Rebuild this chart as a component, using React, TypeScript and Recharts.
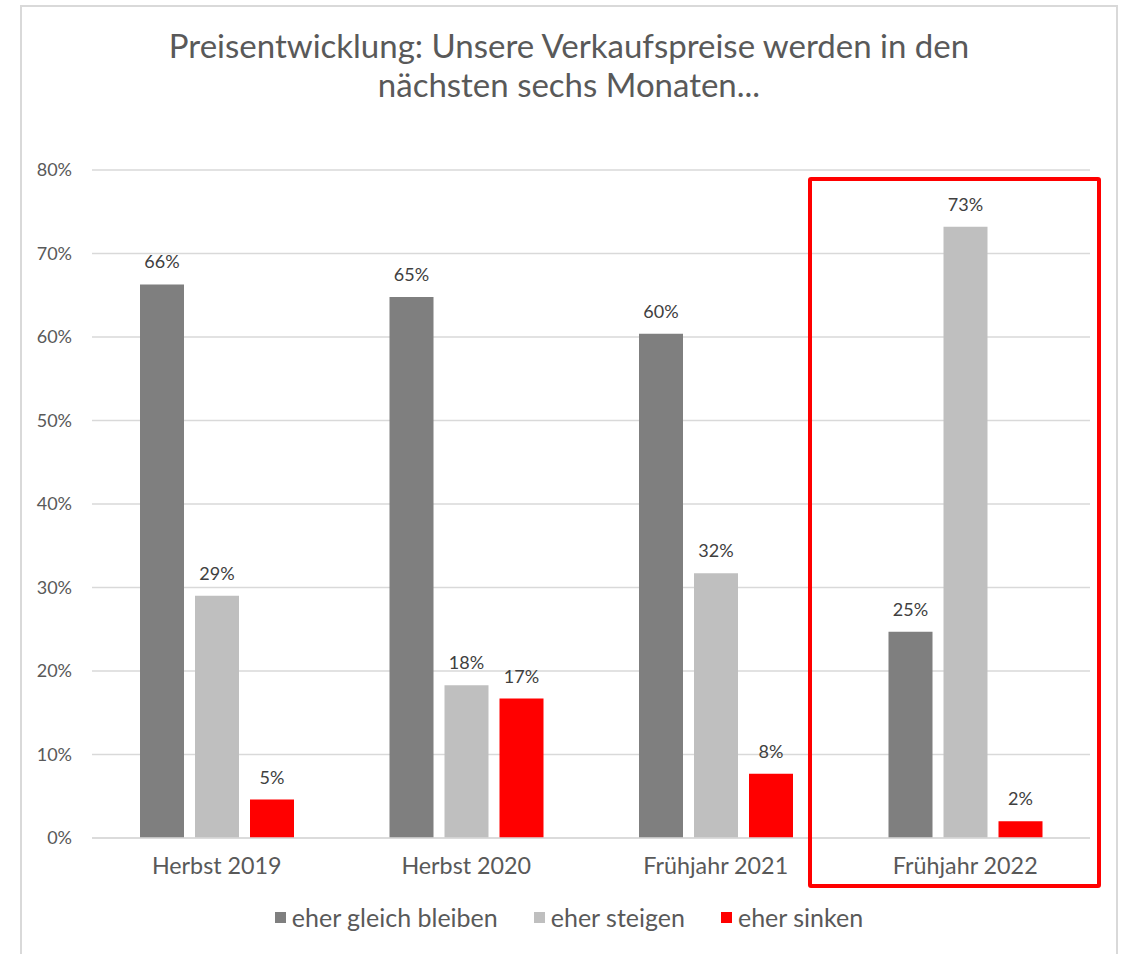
import React from 'react';
import { BarChart, Bar, XAxis, YAxis, CartesianGrid, LabelList } from 'recharts';

const categories = ['Herbst 2019', 'Herbst 2020', 'Frühjahr 2021', 'Frühjahr 2022'];
const gleichBleiben = [0.663, 0.648, 0.604, 0.247];
const steigen = [0.29, 0.183, 0.317, 0.732];
const sinken = [0.046, 0.167, 0.077, 0.02];
const yTicks = [0, 0.1, 0.2, 0.3, 0.4, 0.5, 0.6, 0.7, 0.8];
const seriesKeys = ['gleich', 'steigen', 'sinken'];
const seriesNames = ['eher gleich bleiben', 'eher steigen', 'eher sinken'];
const seriesColors = ['#7f7f7f', '#bfbfbf', '#ff0000'];
const titleLines = ['Preisentwicklung: Unsere Verkaufspreise werden in den', 'nächsten sechs Monaten...'];

const data = categories.map((c, i) => ({
  category: c,
  gleich: gleichBleiben[i],
  steigen: steigen[i],
  sinken: sinken[i],
}));

const FONT = 'Lato, "Open Sans", sans-serif';
const TEXT = '#595959';
const pct = (v: number) => `${Math.round(v * 100)}%`;

export default function App() {
  return (
    <div style={{ position: 'absolute', left: 0, top: 0, width: 1124, height: 954, overflow: 'hidden', background: '#fff', fontFamily: FONT }}>
      <div style={{ position: 'absolute', left: 20, top: 5, width: 1098, height: 980, border: '2px solid #d9d9d9', boxSizing: 'border-box' }} />
      <div style={{ position: 'absolute', left: 20, top: 26, width: 1098, textAlign: 'center', color: TEXT, fontSize: 33, lineHeight: '39px' }}>
        {titleLines.map((l) => (
          <div key={l}>{l}</div>
        ))}
      </div>
      <BarChart
        width={1124}
        height={954}
        data={data}
        margin={{ top: 170, right: 34, bottom: 86, left: 0 }}
        barSize={44}
        barGap={11}
        barCategoryGap="19%"
        style={{ position: 'absolute', left: 0, top: 0 }}
      >
        <CartesianGrid vertical={false} stroke="#d9d9d9" strokeWidth={1.5} />
        <YAxis
          width={92}
          domain={[0, 0.8]}
          ticks={yTicks}
          tickFormatter={pct}
          axisLine={false}
          tickLine={false}
          tickSize={0}
          tickMargin={20}
          tick={{ fill: TEXT, fontSize: 18, fontFamily: FONT }}
        />
        <XAxis
          dataKey="category"
          height={30}
          axisLine={{ stroke: '#d9d9d9', strokeWidth: 1.5 }}
          tickLine={false}
          tickSize={0}
          tickMargin={19}
          tick={{ fill: TEXT, fontSize: 23.3, fontFamily: FONT }}
        />
        {seriesKeys.map((k, i) => (
          <Bar key={k} dataKey={k} name={seriesNames[i]} fill={seriesColors[i]} isAnimationActive={false}>
            <LabelList dataKey={k} position="top" offset={16} formatter={pct} fill={'#404040'} fontSize={18} fontFamily={FONT} />
          </Bar>
        ))}
      </BarChart>
      <div style={{ position: 'absolute', left: 808, top: 177, width: 293, height: 711, border: '4px solid #ff0000', borderRadius: 3, boxSizing: 'border-box' }} />
      <div style={{ position: 'absolute', left: 20, top: 902, width: 1098, display: 'flex', justifyContent: 'center', alignItems: 'center', color: TEXT, fontSize: 25 }}>
        {seriesNames.map((n, i) => (
          <div key={n} style={{ display: 'flex', alignItems: 'center', marginRight: i < seriesNames.length - 1 ? 36 : 0 }}>
            <span style={{ width: 11, height: 11, background: seriesColors[i], marginRight: 6, display: 'inline-block' }} />
            <span>{n}</span>
          </div>
        ))}
      </div>
    </div>
  );
}
